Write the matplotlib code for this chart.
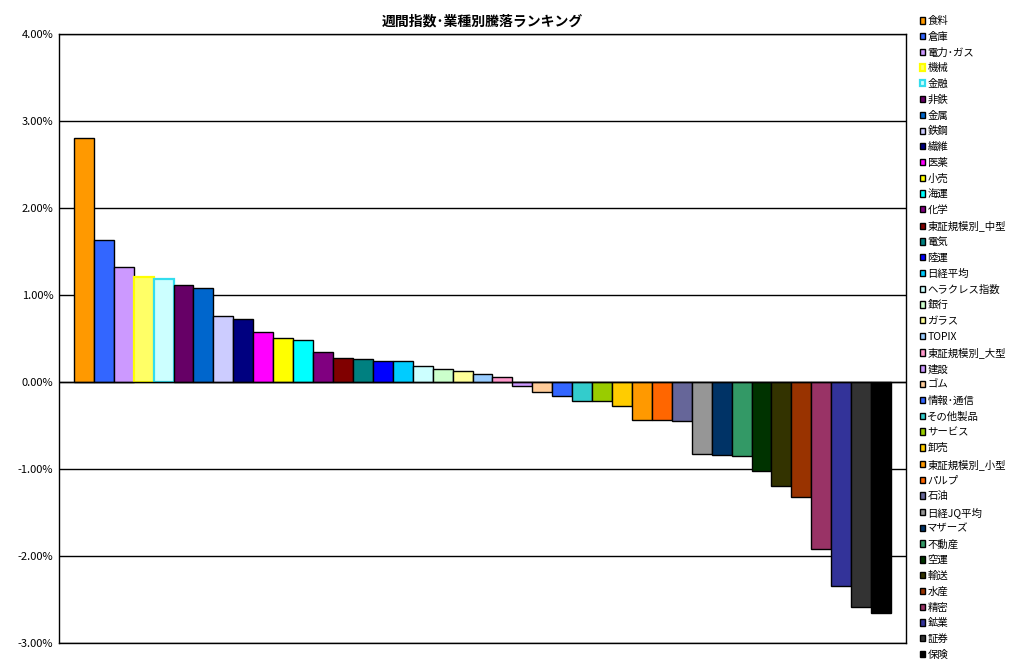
import matplotlib
matplotlib.use('Agg')
import matplotlib.pyplot as plt
import numpy as np

plt.rcParams['font.family'] = ['Noto Sans CJK JP', 'DejaVu Sans']

# Weekly change by sector / index (%)
names = ['食料', '倉庫', '電力･ガス', '機械', '金融', '非鉄', '金属', '鉄鋼', '繊維', '医薬',
         '小売', '海運', '化学', '東証規模別_中型', '電気', '陸運', '日経平均', 'ヘラクレス指数',
         '銀行', 'ガラス', 'TOPIX', '東証規模別_大型', '建設', 'ゴム', '情報･通信', 'その他製品',
         'サービス', '卸売', '東証規模別_小型', 'パルプ', '石油', '日経JQ平均', 'マザーズ',
         '不動産', '空運', '輸送', '水産', '精密', '鉱業', '証券', '保険']
values = [2.81, 1.63, 1.32, 1.21, 1.18, 1.115, 1.077, 0.755, 0.73, 0.58,
          0.51, 0.48, 0.34, 0.28, 0.27, 0.24, 0.24, 0.18,
          0.146, 0.13, 0.088, 0.061, -0.046, -0.12, -0.165, -0.22,
          -0.22, -0.28, -0.437, -0.44, -0.45, -0.83, -0.84,
          -0.855, -1.02, -1.19, -1.325, -1.92, -2.34, -2.59, -2.66]
colors = ['#FF9900', '#3366FF', '#CC99FF', '#FFFF66', '#CCFFFF', '#660066', '#0066CC', '#CCCCFF',
          '#000080', '#FF00FF', '#FFFF00', '#00FFFF', '#800080', '#800000', '#008080', '#0000FF',
          '#00CCFF', '#CCFFFF', '#CCFFCC', '#FFFF99', '#99CCFF', '#FF99CC', '#CC99FF', '#FFCC99',
          '#3366FF', '#33CCCC', '#99CC00', '#FFCC00', '#FF9900', '#FF6600', '#666699', '#969696',
          '#003366', '#339966', '#003300', '#333300', '#993300', '#993366', '#333399', '#333333',
          '#000000']
edges = ['black'] * len(names)
edges[3] = '#FFFF00'   # 機械
edges[4] = '#33DDEE'   # 金融

fig = plt.figure(figsize=(10.15, 6.71), dpi=100)
ax = fig.add_axes([0.0581, 0.0417, 0.8345, 0.9076])

x = np.arange(len(names))
handles = []
for i in range(len(names)):
    lw = 1.6 if edges[i] != 'black' else 1.0
    b = ax.bar(x[i], values[i] / 100, width=1.0, color=colors[i],
               edgecolor=edges[i], linewidth=lw, label=names[i], zorder=3)
    handles.append(b)

ax.set_xlim(-1.25, len(names) + 0.25)
ax.set_ylim(-0.03, 0.04)
yt = np.arange(-0.03, 0.0401, 0.01)
ax.set_yticks(yt)
ax.set_yticklabels([f'{v * 100:.2f}%' for v in yt], fontsize=8)
ax.tick_params(axis='y', length=0, pad=4)
ax.set_xticks([])
ax.grid(axis='y', color='black', linewidth=1.0, zorder=0)
ax.axhline(0, color='black', linewidth=1.0, zorder=4)
for s in ax.spines.values():
    s.set_color('black')
    s.set_linewidth(1.0)

ax.set_title('週間指数･業種別騰落ランキング', fontsize=10, fontweight='bold', pad=6)

fig.legend(handles=handles, labels=names, loc='upper left',
           bbox_to_anchor=(0.906, 0.976), frameon=False, fontsize=7.5,
           handlelength=0.55, handleheight=0.55, handletextpad=0.2,
           labelspacing=0.545, borderaxespad=0, borderpad=0)

fig.savefig('out.png', dpi=100)
